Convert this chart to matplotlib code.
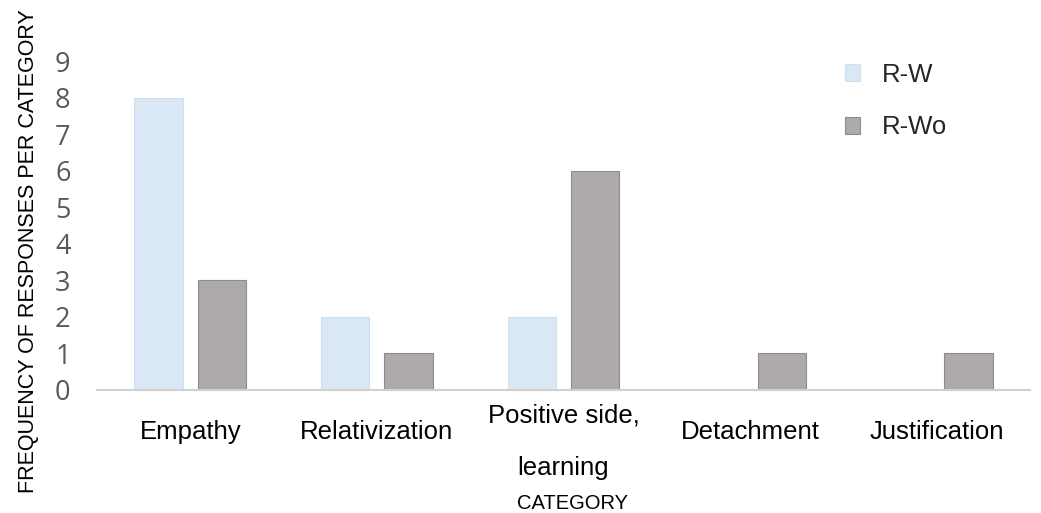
import numpy as np
import matplotlib.pyplot as plt

plt.rcParams['font.family'] = ['Liberation Sans', 'DejaVu Sans']

categories = ['Empathy', 'Relativization', 'Positive side,\nlearning', 'Detachment', 'Justification']
r_w = [8, 2, 2, 0, 0]
r_wo = [3, 1, 6, 1, 1]
yticks = list(range(0, 10))
    # frequencies

fig = plt.figure(figsize=(10.41, 5.13), dpi=100)
ax = fig.add_axes([97 / 1041, 123 / 513, 933 / 1041, 347 / 513])

x = np.arange(len(categories))
width = 0.26
ax.bar(x - 0.17, r_w, width, color='#dae8f6', edgecolor='#cfdff0', linewidth=0.8, label='R-W')
ax.bar(x + 0.17, r_wo, width, color='#aeaaaa', edgecolor='#8f8b8b', linewidth=0.8, label='R-Wo')
    # two bars per category

ax.set_xlim(-0.5, len(categories) - 0.5)
ax.set_ylim(0, 9.5)
ax.set_yticks(yticks)
ax.set_yticklabels([str(t) for t in yticks], fontsize=19.5, color='#595959', family=['Open Sans', 'DejaVu Sans'])
ax.set_xticks(x)
ax.set_xticklabels(categories, fontsize=18.5, color='black')
ax.tick_params(axis='x', length=0, pad=30)
ax.tick_params(axis='y', length=0, pad=19)
for tick, lab in zip(ax.xaxis.get_major_ticks(), ax.get_xticklabels()):
    lab.set_verticalalignment('center')
    lab.set_linespacing(2.5)
    if '\n' in lab.get_text():
        tick.set_pad(37)
            # the two-line label sits a bit lower
    # tick styling

for side in ['top', 'right', 'left']:
    ax.spines[side].set_visible(False)
ax.spines['bottom'].set_color('#d0d0d0')
ax.spines['bottom'].set_linewidth(1.5)

ax.set_xlabel('CATEGORY', fontsize=14.5, color='black')
ax.xaxis.set_label_coords(0.51, -0.30)
ax.set_ylabel('FREQUENCY OF RESPONSES PER CATEGORY', fontsize=15.5, color='black')
ax.yaxis.set_label_coords(-0.062, 0.40)
    # axis titles

ax.legend(loc='upper left', bbox_to_anchor=(0.777, 1.01), frameon=False, fontsize=18.5,
          handlelength=0.6, handleheight=0.6, labelspacing=1.12, handletextpad=0.85,
          labelcolor='#262626')

fig.savefig('out.png', dpi=100)
